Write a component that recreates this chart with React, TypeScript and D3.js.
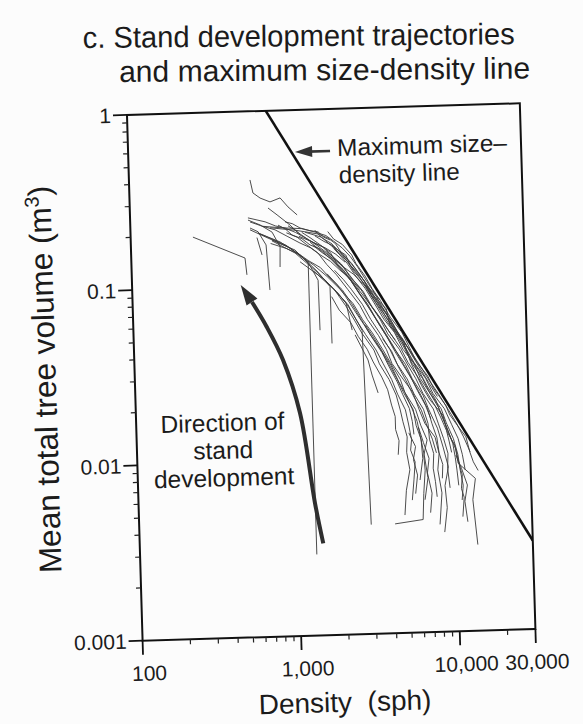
import React from 'react';
import * as d3 from 'd3';

type Pt = [number, number];

// Axis extents and labelled ticks
const densityDomain: [number, number] = [100, 30000];
const volumeDomain: [number, number] = [0.001, 1];
const densityTicks = [100, 1000, 10000, 30000];
const densityTickLabels = ['100', '1,000', '10,000', '30,000'];
const volumeTicks = [1, 0.1, 0.01, 0.001];
const volumeTickLabels = ['1', '0.1', '0.01', '0.001'];

// Maximum size–density line end points (density sph, volume m³)
const maxLineDensity = [750, 30000];
const maxLineVolume = [1, 0.0032];

// Stand trajectories: [density (sph), mean total tree volume (m³)]
const sparseStands: Pt[][] = [
  [[532, 0.117], [521, 0.146], [247, 0.196]],
  [[1130, 0.252], [993, 0.281], [889, 0.317], [767, 0.302], [665, 0.319], [601, 0.342], [579, 0.406]],
  [[738, 0.095], [711, 0.172], [637, 0.205], [568, 0.216]],
  [[863, 0.128], [871, 0.167], [780, 0.203], [658, 0.224], [553, 0.24]],
  [[668, 0.151], [625, 0.19]],
  [[1170, 0.194], [1016, 0.221], [845, 0.254], [743, 0.279]],
];

const longStands: Pt[][] = [
  [[1300, 0.0029], [1300, 0.133], [1080, 0.159], [776, 0.183]],
  [[2900, 0.0042], [2760, 0.054], [2275, 0.076], [1650, 0.106], [1156, 0.136]],
  [[1500, 0.055], [1490, 0.106], [1297, 0.135], [1004, 0.164], [734, 0.188], [567, 0.211]],
  [[1775, 0.046], [1766, 0.097], [1493, 0.118], [1159, 0.149], [871, 0.178], [635, 0.202]],
  [[2390, 0.0544], [2213, 0.078], [1897, 0.0927], [1432, 0.121], [1079, 0.153], [776, 0.181]],
];

const denseStands: Pt[][] = [
  [[13500, 0.0031], [12800, 0.0056], [13400, 0.0074], [10500, 0.0091], [10100, 0.0115], [9100, 0.0137], [8600, 0.0172], [7200, 0.021], [6400, 0.0255], [6000, 0.029], [5500, 0.035], [5000, 0.046], [4150, 0.057], [3950, 0.071], [3150, 0.089], [2900, 0.104], [2390, 0.128], [2250, 0.146], [1800, 0.168], [1600, 0.186], [1260, 0.2]],
  [[14000, 0.0082], [13100, 0.0092], [12500, 0.0105], [11900, 0.0128], [10800, 0.0145], [9500, 0.0172], [9000, 0.0195], [7600, 0.0245], [7000, 0.029], [6000, 0.035], [5400, 0.043], [4900, 0.052], [4200, 0.063], [3650, 0.079], [3250, 0.093], [2950, 0.11], [2600, 0.13], [2450, 0.146], [2150, 0.168], [1900, 0.181], [1750, 0.2]],
  [[11000, 0.0045], [11300, 0.0058], [10900, 0.0065], [11100, 0.0078], [10700, 0.0088], [10200, 0.011], [9600, 0.0125], [8600, 0.0165], [8100, 0.019], [7200, 0.023], [6300, 0.028], [5800, 0.034], [4950, 0.0415], [4400, 0.052], [3800, 0.062], [3300, 0.078], [2950, 0.093], [2550, 0.112], [2300, 0.13], [2000, 0.152], [1850, 0.17], [1600, 0.185], [1450, 0.205]],
  [[8400, 0.0037], [8800, 0.0051], [8600, 0.0068], [9100, 0.0087], [8500, 0.0113], [7900, 0.0145], [7000, 0.0187], [6500, 0.0225], [5600, 0.028], [5100, 0.034], [4400, 0.0415], [3850, 0.051], [3400, 0.062], [3000, 0.075], [2600, 0.093], [2350, 0.109], [1980, 0.13], [1800, 0.152], [1540, 0.17], [1350, 0.186], [1200, 0.2]],
  [[7870, 0.0041], [8200, 0.0062], [7800, 0.0084], [8000, 0.0104], [7600, 0.0129], [6600, 0.0155], [6100, 0.0187], [5600, 0.0235], [4900, 0.028], [4200, 0.0345], [3900, 0.0415], [3500, 0.05], [3000, 0.062], [2700, 0.075], [2280, 0.093], [1950, 0.113], [1700, 0.13], [1500, 0.152], [1280, 0.17], [1120, 0.188], [960, 0.2]],
  [[4100, 0.0042], [6170, 0.0044], [6300, 0.0062], [6490, 0.0084], [6400, 0.0102], [6760, 0.0125], [6200, 0.0152], [5800, 0.0187], [5000, 0.0235], [4700, 0.028], [4100, 0.035], [3700, 0.0415], [3200, 0.052], [2800, 0.062], [2450, 0.077], [2050, 0.093], [1700, 0.111], [1400, 0.13], [1150, 0.148], [950, 0.17], [800, 0.183], [650, 0.2]],
  [[4750, 0.0047], [4900, 0.0065], [5200, 0.0085], [5000, 0.0107], [5070, 0.0131], [4800, 0.016], [4640, 0.0187], [4400, 0.0228], [4000, 0.028], [3500, 0.0345], [3250, 0.0415], [2750, 0.052], [2480, 0.062], [2200, 0.075], [1880, 0.093], [1650, 0.104], [1400, 0.12]],
  [[11600, 0.0083], [11200, 0.0102], [10600, 0.0126], [9700, 0.0152], [8800, 0.0187], [7500, 0.023], [6800, 0.028], [5800, 0.0345], [5200, 0.0415], [4600, 0.051], [4000, 0.062], [3500, 0.077], [3100, 0.093], [2800, 0.109], [2450, 0.13], [2100, 0.152], [1950, 0.17], [1750, 0.184], [1500, 0.195], [1100, 0.206], [760, 0.215]],
  [[7640, 0.0059], [7500, 0.0072], [7300, 0.0086], [7400, 0.0104], [7000, 0.0126], [6900, 0.0155], [6500, 0.0187], [5700, 0.023], [5200, 0.028], [4500, 0.0345], [4100, 0.0415], [3600, 0.051], [3150, 0.062], [2800, 0.076], [2400, 0.093], [2150, 0.106], [1900, 0.12]],
  [[6000, 0.0074], [6300, 0.0098], [6200, 0.0126], [5800, 0.0152], [5600, 0.0187], [4900, 0.0235], [4500, 0.028], [4000, 0.0345], [3600, 0.0415], [3100, 0.051], [2750, 0.062], [2400, 0.077], [2100, 0.093], [1750, 0.11], [1550, 0.125], [1300, 0.138], [1150, 0.15], [950, 0.163], [760, 0.175]],
  [[10960, 0.0056], [11200, 0.0068], [10790, 0.0083], [10500, 0.0102], [9900, 0.0126], [9000, 0.0155], [8400, 0.0187], [7200, 0.023], [6500, 0.028], [5600, 0.0345], [5100, 0.0415], [4500, 0.051], [3900, 0.062], [3400, 0.077], [3000, 0.093], [2700, 0.11], [2350, 0.13], [2150, 0.145], [1900, 0.16]],
  [[5320, 0.0057], [5500, 0.0075], [5630, 0.0094], [5300, 0.011], [5400, 0.0126], [5200, 0.0155], [5000, 0.0187], [4500, 0.023], [4150, 0.028], [3700, 0.0345], [3350, 0.0415], [2900, 0.051], [2550, 0.062], [2250, 0.076], [1950, 0.09]],
  [[9250, 0.0066], [9000, 0.0085], [9100, 0.0104], [8600, 0.0126], [8000, 0.0155], [7500, 0.0187], [6500, 0.023], [5900, 0.028], [5200, 0.0345], [4700, 0.0415], [4000, 0.051], [3600, 0.062], [3100, 0.077], [2750, 0.093], [2350, 0.111], [2100, 0.13], [1800, 0.148], [1600, 0.165], [1350, 0.178], [1150, 0.19]],
  [[7700, 0.0105], [7300, 0.0126], [6800, 0.015], [6300, 0.0185], [5700, 0.022], [5100, 0.0275], [4600, 0.033], [4200, 0.0405], [3700, 0.048]],
  [[5900, 0.036], [5300, 0.0425], [4700, 0.05], [4200, 0.061], [3700, 0.072], [3200, 0.086], [2900, 0.1], [2500, 0.118], [2300, 0.135], [2000, 0.151], [1850, 0.165]],
  [[8000, 0.022], [7100, 0.0265], [6300, 0.032], [5600, 0.0385], [5000, 0.047], [4300, 0.057], [3900, 0.068], [3400, 0.082], [3050, 0.097], [2700, 0.114], [2400, 0.132], [2150, 0.147], [1900, 0.165], [1650, 0.176], [1450, 0.19]],
  [[4420, 0.0104], [4500, 0.0125], [4300, 0.0145], [4300, 0.0172], [4100, 0.02], [3900, 0.0245], [3600, 0.029], [3200, 0.0355], [2950, 0.042], [2600, 0.05], [2350, 0.06], [2000, 0.071], [1800, 0.085]],
  [[12560, 0.0105], [11500, 0.0128], [10500, 0.0152], [9300, 0.0185], [8200, 0.0225], [7200, 0.027], [6300, 0.0332], [5500, 0.0405], [4800, 0.049], [4250, 0.06], [3700, 0.074], [3300, 0.09], [2950, 0.106], [2650, 0.125], [2400, 0.143], [2150, 0.16], [1900, 0.176], [1700, 0.19], [1450, 0.2], [1200, 0.21], [900, 0.214], [680, 0.22]],
  [[6400, 0.0057], [6740, 0.0076], [6440, 0.0103], [6100, 0.0135], [5900, 0.016], [5500, 0.019], [5000, 0.0235], [4600, 0.027], [4150, 0.0335], [3700, 0.04], [3300, 0.048], [2900, 0.058]],
  [[2730, 0.092], [2400, 0.106], [2055, 0.12], [1800, 0.135], [1550, 0.148], [1350, 0.163], [1164, 0.174], [980, 0.19], [815, 0.209], [680, 0.22], [569, 0.234]],
  [[2220, 0.133], [1950, 0.148], [1670, 0.162], [1450, 0.172], [1256, 0.186], [1100, 0.2], [944, 0.213], [820, 0.22], [708, 0.233], [553, 0.247]],
  [[3630, 0.08], [3200, 0.091], [2820, 0.1005], [2500, 0.113], [2213, 0.123], [1950, 0.136], [1741, 0.147], [1550, 0.16], [1346, 0.169], [1200, 0.184], [1040, 0.194], [950, 0.21], [853, 0.222]],
  [[1803, 0.179], [1650, 0.186], [1521, 0.2], [1350, 0.204], [1172, 0.212], [1050, 0.225], [946, 0.231]],
  [[4440, 0.047], [4000, 0.054], [3610, 0.063], [3250, 0.072], [2925, 0.0824], [2650, 0.093], [2372, 0.105], [2150, 0.121], [1922, 0.134], [1700, 0.152], [1510, 0.166], [1330, 0.18], [1169, 0.196], [1080, 0.208], [986, 0.219]],
  [[3390, 0.0236], [3130, 0.0299], [2970, 0.0365], [2490, 0.051]],
  [[7200, 0.0165], [6700, 0.0197], [6000, 0.024], [5400, 0.0295], [4800, 0.036], [4300, 0.0435], [3800, 0.053], [3350, 0.064], [3000, 0.077], [2650, 0.09], [2350, 0.107], [2050, 0.123], [1800, 0.14], [1550, 0.158], [1350, 0.175]],
  [[9600, 0.0105], [9300, 0.0122], [9000, 0.014], [8300, 0.0168], [7700, 0.0195], [6800, 0.0238], [6100, 0.0285], [5300, 0.0348], [4800, 0.042], [4200, 0.0505], [3700, 0.061], [3200, 0.074], [2850, 0.09], [2500, 0.104], [2200, 0.122], [1950, 0.137], [1700, 0.155]],
  [[5600, 0.0135], [5500, 0.016], [5300, 0.019], [4850, 0.0228], [4500, 0.027], [4000, 0.0335], [3650, 0.04], [3200, 0.0485], [2850, 0.058], [2500, 0.07], [2200, 0.085], [1950, 0.1], [1700, 0.115]],
  [[10500, 0.0068], [10300, 0.0083], [10100, 0.0098], [9800, 0.0118], [9200, 0.014], [8400, 0.0172], [7800, 0.021], [6900, 0.0255], [6200, 0.031], [5400, 0.038], [4900, 0.046], [4300, 0.056], [3800, 0.067], [3300, 0.081], [2950, 0.097]],
  [[8300, 0.0075], [8400, 0.009], [8000, 0.0105], [7800, 0.0128], [7300, 0.0155], [6900, 0.0188], [6300, 0.0225], [5600, 0.0275], [5000, 0.033], [4400, 0.0405], [3950, 0.049], [3500, 0.059], [3100, 0.072], [2700, 0.087], [2400, 0.104], [2100, 0.12], [1850, 0.138], [1600, 0.152], [1400, 0.168]],
  [[6900, 0.0048], [7100, 0.0062], [6700, 0.0081], [6900, 0.0098], [6400, 0.0121], [6000, 0.0148]],
  [[11800, 0.0042], [11400, 0.0055], [11900, 0.0068], [11000, 0.0085], [10200, 0.0101]],
  [[5600, 0.0062], [5800, 0.0079], [5500, 0.0097], [5700, 0.0115], [5200, 0.0138]],
];

const FONT = '"Liberation Sans", Arial, Helvetica, sans-serif';
const INK = '#1b1b1b';

export default function App() {
  const W = 393;
  const H = 526;
  const left = 134.7;
  const top = 109;

  const x = d3.scaleLog().domain(densityDomain).range([0, W]);
  const y = d3.scaleLog().domain(volumeDomain).range([H, 0]);
  const path = d3.line<Pt>().x((d) => x(d[0])).y((d) => y(d[1]));

  const isDecade = (t: number) => Math.abs(Math.log10(t) - Math.round(Math.log10(t))) < 1e-6;
  const minorX = x.ticks().filter((t) => !isDecade(t) && t < densityDomain[1]);
  const minorY = y.ticks().filter((t) => !isDecade(t));

  const maxLine: Pt[] = maxLineDensity.map((d, i) => [d, maxLineVolume[i]] as Pt);
  const stands = [...sparseStands, ...longStands, ...denseStands];

  // curved "direction of development" arrow, in plot pixels
  const bend: Pt[] = [
    [183.5, 434],
    [176.4, 393.5],
    [164.1, 303.1],
    [148.7, 249.6],
    [133.3, 215.8],
    [119.4, 190.7],
  ];
  const tip: Pt = [108.6, 173.3];
  const base = bend[bend.length - 1];
  const ax = tip[0] - base[0];
  const ay = tip[1] - base[1];
  const alen = Math.hypot(ax, ay);
  const px = -ay / alen;
  const py = ax / alen;
  const hw = 6.5;
  const head = `M${tip[0]},${tip[1]} L${base[0] + px * hw},${base[1] + py * hw} L${base[0] - px * hw},${base[1] - py * hw} Z`;
  const bendPath = d3.line<Pt>().curve(d3.curveCatmullRom.alpha(0.5))(bend) || '';

  return (
    <svg
      width={583}
      height={724}
      viewBox="0 0 583 724"
      style={{ position: 'absolute', left: 0, top: 0, display: 'block' }}
      fontFamily={FONT}
    >
      <rect x={0} y={0} width={583} height={724} fill="#fcfcfc" />

      <g transform="rotate(-0.5 300 65)" fill={INK}>
        <text x={83} y={46.1} fontSize={30} textLength={432} lengthAdjust="spacingAndGlyphs">
          c. Stand development trajectories
        </text>
        <text x={119} y={80.4} fontSize={30} textLength={411} lengthAdjust="spacingAndGlyphs">
          and maximum size-density line
        </text>
      </g>

      <g transform="rotate(-1.7 331.2 372)">
        <g transform={`translate(${left},${top})`}>
          <defs>
            <clipPath id="plot-area">
              <rect x={0} y={0} width={W} height={H} />
            </clipPath>
          </defs>

          <g clipPath="url(#plot-area)" fill="none">
            {stands.map((s, i) => (
              <path key={i} d={path(s) || ''} stroke="#3a3a3a" strokeWidth={0.9} strokeLinejoin="miter" />
            ))}
            <path d={path(maxLine) || ''} stroke="#111" strokeWidth={2.6} />
          </g>

          <rect x={0} y={0} width={W} height={H} fill="none" stroke="#111" strokeWidth={2} />

          {/* x axis ticks */}
          {densityTicks.map((t) => (
            <line key={`xM${t}`} x1={x(t)} x2={x(t)} y1={H} y2={H + 14} stroke="#111" strokeWidth={1.8} />
          ))}
          {minorX.map((t) => (
            <line key={`xm${t}`} x1={x(t)} x2={x(t)} y1={H} y2={H + 5} stroke="#222" strokeWidth={1.2} />
          ))}
          {densityTicks.map((t, i) => (
            <text
              key={`xl${t}`}
              x={x(t) + (i < densityTicks.length - 1 ? 6 : 1)}
              y={H + 40}
              fontSize={21}
              textAnchor="middle"
              fill={INK}
            >
              {densityTickLabels[i]}
            </text>
          ))}

          {/* y axis ticks */}
          {volumeTicks.map((t) => (
            <line key={`yM${t}`} x1={-14} x2={0} y1={y(t)} y2={y(t)} stroke="#111" strokeWidth={1.8} />
          ))}
          {minorY.map((t) => (
            <line key={`ym${t}`} x1={-5} x2={0} y1={y(t)} y2={y(t)} stroke="#222" strokeWidth={1.2} />
          ))}
          {volumeTicks.map((t, i) => (
            <text key={`yl${t}`} x={-16} y={y(t)} dy="0.36em" fontSize={21} textAnchor="end" fill={INK}>
              {volumeTickLabels[i]}
            </text>
          ))}

          {/* axis titles */}
          <text
            x={W / 2 + 4}
            y={H + 77}
            fontSize={28}
            textAnchor="middle"
            fill={INK}
            style={{ whiteSpace: 'pre' }}
          >
            {'Density  (sph)'}
          </text>
          <text transform={`translate(-79,${262}) rotate(-90)`} fontSize={31.5} textAnchor="middle" fill={INK}>
            Mean total tree volume (m<tspan dy={-12} fontSize={20}>3</tspan>
            <tspan dy={12}>)</tspan>
          </text>

          {/* label for the maximum line */}
          <line x1={201.9} y1={42} x2={180} y2={42} stroke="#333" strokeWidth={2.6} />
          <path d="M166.8,42 L184,36.5 L184,47.5 Z" fill="#333" />
          <text x={209} y={47.2} fontSize={24} fill={INK} textLength={170} lengthAdjust="spacingAndGlyphs">
            Maximum size–
          </text>
          <text x={209.9} y={74.5} fontSize={24} fill={INK} textLength={121} lengthAdjust="spacingAndGlyphs">
            density line
          </text>

          {/* direction of development */}
          <path d={bendPath} fill="none" stroke="#2e2e2e" strokeWidth={4} strokeLinecap="butt" />
          <path d={head} fill="#2e2e2e" />
          <g fontSize={24.5} fill={INK} textAnchor="middle">
            <text x={86.3} y={319}>Direction of</text>
            <text x={86.3} y={346.5}>stand</text>
            <text x={86.3} y={374}>development</text>
          </g>
        </g>
      </g>
    </svg>
  );
}
